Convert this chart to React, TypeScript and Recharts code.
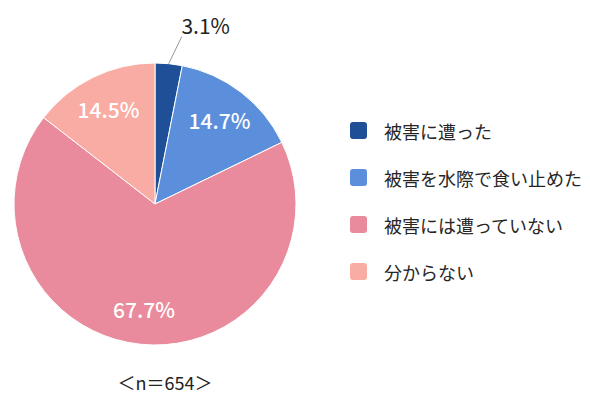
import { PieChart, Pie, Cell } from "recharts";

const categories = ["被害に遭った", "被害を水際で食い止めた", "被害には遭っていない", "分からない"];
const shares = [3.1, 14.7, 67.7, 14.5];
const sampleNote = "＜n＝654＞";

const colors = ["#1f4f97", "#5b8fdb", "#e98b9c", "#f9aca3"];
const font = "'Noto Sans CJK JP', 'Noto Sans', sans-serif";
const RADIAN = Math.PI / 180;

const data = categories.map((name, i) => ({ name, value: shares[i] }));

const renderLabel = (props: any) => {
  const { cx, cy, midAngle, outerRadius, index, value } = props;
  const text = `${Number(value).toFixed(1)}%`;
  if (index === 0) {
    const sx = cx + outerRadius * Math.cos(-midAngle * RADIAN);
    const sy = cy + outerRadius * Math.sin(-midAngle * RADIAN);
    const ex = sx + 13;
    const ey = sy - 27;
    return (
      <g>
        <line x1={sx} y1={sy} x2={ex} y2={ey} stroke="#999" strokeWidth={1} />
        <text x={ex + 24} y={ey - 3} textAnchor="middle" fill="#222" fontSize={21} fontFamily={font}>
          {text}
        </text>
      </g>
    );
  }
  const r = outerRadius * 0.75;
  const x = cx + r * Math.cos(-midAngle * RADIAN);
  const y = cy + r * Math.sin(-midAngle * RADIAN);
  return (
    <text x={x} y={y} textAnchor="middle" dominantBaseline="central" fill="#fff" fontSize={21} fontWeight={500} fontFamily={font}>
      {text}
    </text>
  );
};

export default function App() {
  return (
    <div style={{ position: "absolute", left: 0, top: 0, width: 590, height: 420, background: "#fff" }}>
      <PieChart width={590} height={420} margin={{ top: 0, right: 0, bottom: 0, left: 0 }}>
        <Pie
          data={data}
          dataKey="value"
          nameKey="name"
          cx={155}
          cy={204}
          outerRadius={141}
          startAngle={90}
          endAngle={-270}
          stroke="#fff"
          strokeWidth={1}
          label={renderLabel}
          labelLine={false}
          isAnimationActive={false}
        >
          {data.map((d, i) => (
            <Cell key={d.name} fill={colors[i]} />
          ))}
        </Pie>
      </PieChart>
      <div style={{ position: "absolute", left: 350, top: 107, width: 240, fontFamily: font, fontSize: 18, color: "#262626" }}>
        {categories.map((c, i) => (
          <div key={c} style={{ display: "flex", alignItems: "center", height: 47 }}>
            <span style={{ width: 17, height: 17, borderRadius: 3, background: colors[i], marginRight: 17, flexShrink: 0 }} />
            <span style={{ whiteSpace: "nowrap" }}>{c}</span>
          </div>
        ))}
      </div>
      <div style={{ position: "absolute", left: 105, top: 369, width: 120, textAlign: "center", fontFamily: font, fontSize: 18, color: "#222" }}>
        {sampleNote}
      </div>
    </div>
  );
}
